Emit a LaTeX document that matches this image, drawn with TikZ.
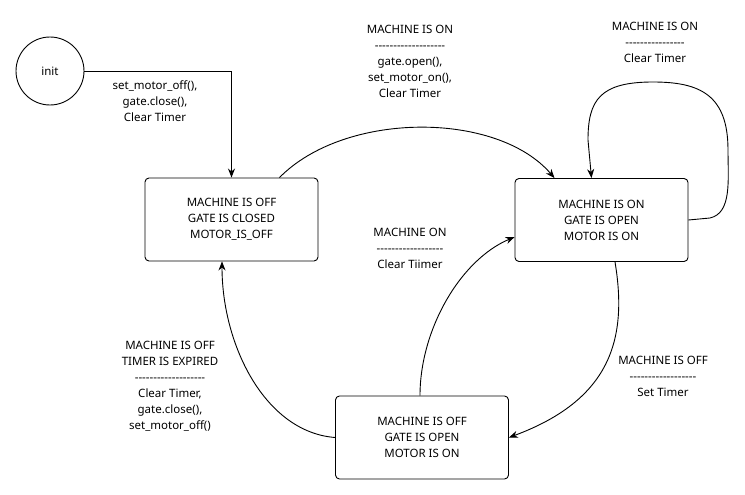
\documentclass[tikz,border=0pt]{standalone}
\usepackage{fontspec}
\setmainfont{Noto Sans}
\usetikzlibrary{arrows.meta}
\newcommand{\dashrow}[1]{\foreach \i in {1,...,#1}{-}}

\begin{document}
\begin{tikzpicture}[x=1pt, y=-1pt, line width=0.9pt,
    every node/.style={font=\fontsize{11.5}{16}\selectfont},
    state/.style={draw, rounded corners=4pt, align=center, minimum width=173pt, minimum height=83pt},
    lbl/.style={align=center, inner sep=0pt},
    trans/.style={-{Stealth[length=9pt, width=7pt]}}]
    \useasboundingbox (0,0) rectangle (745,495);

    % States
    \node[circle, draw, minimum size=68pt] (init) at (50,71) {init};
    \node[state] (off) at (231.5,219.5) {MACHINE IS OFF\\GATE IS CLOSED\\MOTOR\_IS\_OFF};
    \node[state] (on) at (601.5,220) {MACHINE IS ON\\GATE IS OPEN\\MOTOR IS ON};
    \node[state] (wait) at (422,437.5) {MACHINE IS OFF\\GATE IS OPEN\\MOTOR IS ON};

    % Transitions
    \draw[trans] (init.east) -| (off.north);
    \draw[trans] ([xshift=48pt]off.north) .. controls (345,111) and (497,111) .. ([xshift=-47pt]on.north);
    \draw[trans] (on.east) -- (710,218) .. controls (732,213) and (728,180) .. (728,150)
        .. controls (728,95) and (700,82) .. (653,82) .. controls (600,82) and (588,100) .. (588,140)
        -- ([xshift=-10pt]on.north);
    \draw[trans] ([xshift=13.5pt]on.south) .. controls (628,340) and (610,400) .. (wait.east);
    \draw[trans] ([xshift=-2pt]wait.north) .. controls (420,330) and (460,260) .. ([yshift=-17pt]on.west);
    \draw[trans] (wait.west) .. controls (265,432) and (222,345) .. ([xshift=-9.5pt]off.south);

    % Transition labels
    \node[lbl] (l1) at (155,101) {set\_motor\_off(),\\gate.close(),\\Clear Timer};
    \node[lbl] (l2) at (410,61) {MACHINE IS ON\\\dashrow{19}\\gate.open(),\\set\_motor\_on(),\\Clear Timer};
    \node[lbl] (l3) at (655,42) {MACHINE IS ON\\\dashrow{16}\\Clear Timer};
    \node[lbl] (l4) at (410,248) {MACHINE ON\\\dashrow{18}\\Clear Tiimer};
    \node[lbl] (l5) at (663,376) {MACHINE IS OFF\\\dashrow{18}\\Set Timer};
    \node[lbl] (l6) at (170,386) {MACHINE IS OFF\\TIMER IS EXPIRED\\\dashrow{19}\\Clear Timer,\\gate.close(),\\set\_motor\_off()};
\end{tikzpicture}
\end{document}
